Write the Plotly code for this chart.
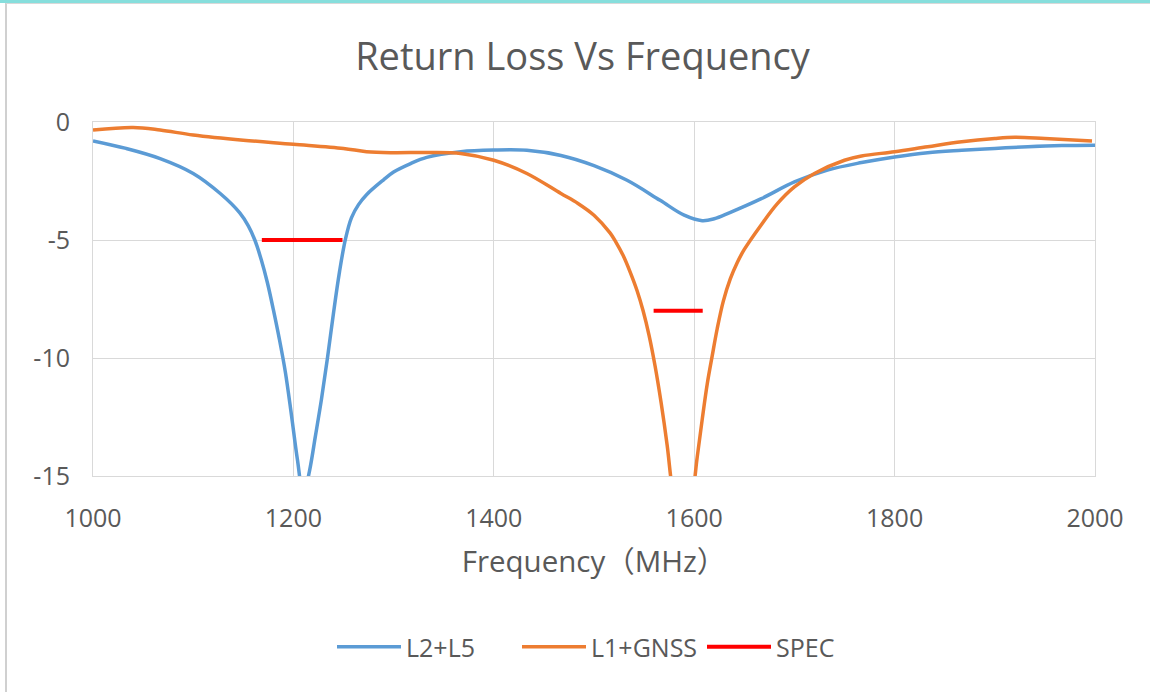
import plotly.graph_objects as go

# ---- data ----
freq_l2l5 = [1000, 1033, 1067, 1100, 1127, 1146.5, 1155, 1161.5, 1168, 1174, 1180, 1186, 1192, 1198,
             1204, 1210, 1216, 1222, 1228, 1234, 1240, 1246, 1252, 1258, 1265, 1273, 1290, 1300,
             1317, 1333, 1367, 1400, 1433, 1467, 1500, 1533, 1566, 1590, 1608, 1620, 1635, 1667,
             1700, 1733, 1767, 1800, 1833, 1867, 1900, 1933, 1967, 2000]
rl_l2l5 = [-0.80, -1.12, -1.55, -2.18, -3.03, -3.85, -4.4, -5.0, -5.85, -6.8, -7.95, -9.2, -10.6, -12.4,
           -14.3, -15.8, -14.8, -13.3, -11.75, -10.0, -8.1, -6.35, -4.95, -4.05, -3.5, -3.08, -2.45, -2.12,
           -1.76, -1.5, -1.26, -1.19, -1.2, -1.42, -1.85, -2.47, -3.32, -3.95, -4.18, -4.1, -3.85, -3.25,
           -2.54, -2.04, -1.72, -1.48, -1.3, -1.2, -1.12, -1.05, -1.0, -0.98]

freq_l1gnss = [1000, 1040, 1067, 1100, 1150, 1200, 1250, 1273, 1300, 1333, 1367, 1400, 1433, 1467,
               1484, 1500, 1516, 1522, 1529, 1536, 1543, 1549, 1555, 1561, 1567, 1573, 1579, 1588.5,
               1598, 1603, 1608, 1613, 1618, 1623, 1629, 1636, 1643, 1650, 1667, 1683, 1700, 1720,
               1750, 1767, 1800, 1833, 1867, 1900, 1920, 1950, 1997]
rl_l1gnss = [-0.34, -0.23, -0.34, -0.55, -0.77, -0.94, -1.12, -1.26, -1.30, -1.29, -1.33, -1.62, -2.18, -3.03,
             -3.45, -3.95, -4.7, -5.1, -5.65, -6.35, -7.15, -8.0, -9.05, -10.35, -11.9, -13.7, -15.8, -17.6,
             -15.9, -14.2, -12.6, -11.1, -9.9, -8.75, -7.6, -6.65, -5.95, -5.4, -4.35, -3.46, -2.75, -2.18,
             -1.62, -1.44, -1.26, -1.05, -0.84, -0.70, -0.65, -0.70, -0.80]

spec_freq = [1168.5, 1249, None, 1559.5, 1608.5]
spec_rl = [-5, -5, None, -8, -8]

x_ticks = [1000, 1200, 1400, 1600, 1800, 2000]
y_ticks = [0, -5, -10, -15]
y_tick_text = ["0", "-5", "-10", "-15"]

TEXT = "#595959"
GRID = "#D9D9D9"
FONT = "Open Sans, Noto Sans CJK SC, sans-serif"

fig = go.Figure()
fig.add_trace(go.Scatter(x=freq_l2l5, y=rl_l2l5, mode="lines", name="L2+L5",
                         line=dict(color="#5B9BD5", width=3.5, shape="spline", smoothing=1.0)))
fig.add_trace(go.Scatter(x=freq_l1gnss, y=rl_l1gnss, mode="lines", name="L1+GNSS",
                         line=dict(color="#ED7D31", width=3.5, shape="spline", smoothing=1.0)))
fig.add_trace(go.Scatter(x=spec_freq, y=spec_rl, mode="lines", name="SPEC",
                         line=dict(color="#FF0000", width=4), connectgaps=False))

# page frame decorations (paper coordinates)
L, R, T, B = 93, 55, 122, 216
pw, ph = 1150 - L - R, 692 - T - B
def px(xp):
    return (xp - L) / pw
def py(yp):
    return (692 - B - yp) / ph

shapes = [
    dict(type="rect", xref="paper", yref="paper", x0=px(0), x1=px(1150), y0=py(3), y1=py(0),
         fillcolor="#86DEDC", line=dict(width=0), layer="above"),
    dict(type="line", xref="paper", yref="paper", x0=px(6), x1=px(6), y0=py(3), y1=py(692),
         line=dict(color="#D0D0D0", width=2)),
    dict(type="line", xref="paper", yref="paper", x0=px(6), x1=px(1150), y0=py(3.5), y1=py(3.5),
         line=dict(color="#D8D8D8", width=1)),
]

fig.update_layout(
    width=1150, height=692,
    margin=dict(l=L, r=R, t=T, b=B, autoexpand=False),
    paper_bgcolor="white", plot_bgcolor="white",
    font=dict(family=FONT, color=TEXT),
    title=dict(text="Return Loss Vs Frequency", x=582.5 / 1150, xanchor="center",
               y=1 - 57 / 692, yanchor="middle", yref="container",
               font=dict(size=38, color=TEXT, family=FONT)),
    showlegend=True,
    legend=dict(orientation="h", x=px(332), xanchor="left", y=py(647), yanchor="middle",
                font=dict(size=25, color=TEXT), itemwidth=64, entrywidth=106,
                entrywidthmode="pixels", tracegroupgap=0),
    shapes=shapes,
    xaxis=dict(range=[1000, 2000], tickvals=x_ticks, showgrid=True, gridcolor=GRID, gridwidth=1,
               zeroline=False, showline=True, linecolor=GRID, mirror=True,
               tickfont=dict(size=25, color=TEXT), ticks="", ticklabelstandoff=20,
               title=dict(text="Frequency（MHz）", font=dict(size=29.5, color=TEXT), standoff=18)),
    yaxis=dict(range=[-15, 0], tickvals=y_ticks, ticktext=y_tick_text, showgrid=True, gridcolor=GRID,
               gridwidth=1, zeroline=False, showline=True, linecolor=GRID, mirror=True,
               tickfont=dict(size=25, color=TEXT), ticks="", ticklabelstandoff=17),
)

fig.write_html("out.html", config={"displayModeBar": False},
               post_script="document.body.style.margin='0';")
